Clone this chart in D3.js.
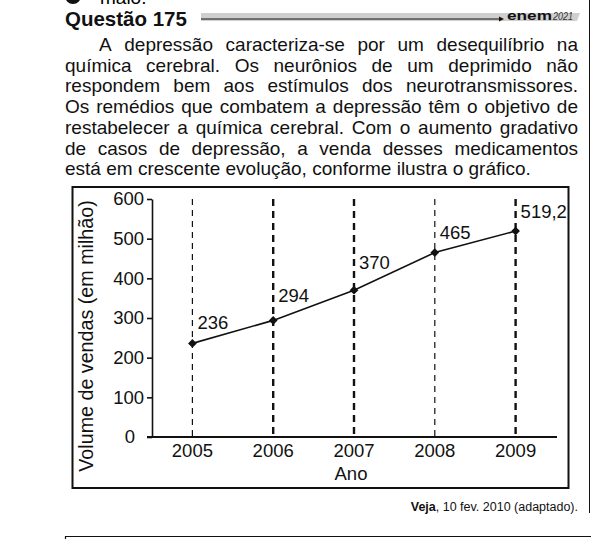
<!DOCTYPE html>
<html>
<head>
<meta charset="utf-8">
<script src="https://cdn.jsdelivr.net/npm/d3@7"></script>
<style>
  body { margin: 0; background: #fff; }
  svg { display: block; font-family: "Liberation Sans", Arial, sans-serif; }
</style>
</head>
<body>
<div id="page"></div>
<script>
// data
var years = [2005, 2006, 2007, 2008, 2009];
var sales = [236, 294, 370, 465, 519.2];
var salesLabels = ["236", "294", "370", "465", "519,2"];
var yTicks = [0, 100, 200, 300, 400, 500, 600];
var heavyDash = [false, true, true, false, true];

var bodyLines = [
  "A depressão caracteriza-se por um desequilíbrio na",
  "química cerebral. Os neurônios de um deprimido não",
  "respondem bem aos estímulos dos neurotransmissores.",
  "Os remédios que combatem a depressão têm o objetivo de",
  "restabelecer a química cerebral. Com o aumento gradativo",
  "de casos de depressão, a venda desses medicamentos",
  "está em crescente evolução, conforme ilustra o gráfico."
];

var svg = d3.select("#page")
  .append("svg")
  .attr("width", 591)
  .attr("height", 539);

svg.append("rect")
  .attr("width", 591).attr("height", 539)
  .attr("fill", "#fff");

// bit of the previous question cut off at the top
svg.append("circle")
  .attr("cx", 73).attr("cy", -4).attr("r", 8)
  .attr("fill", "#111");
svg.append("text")
  .attr("x", 100).attr("y", 4)
  .style("font-size", "19px")
  .text("maio.");

// column rule on the right
svg.append("line")
  .attr("x1", 589.5).attr("x2", 589.5)
  .attr("y1", 0).attr("y2", 513)
  .attr("stroke", "#111").attr("stroke-width", 1);

// header
svg.append("text")
  .attr("x", 65).attr("y", 26)
  .style("font-size", "20.5px")
  .style("font-weight", "bold")
  .attr("fill", "#111")
  .text("Questão 175");

svg.append("path")
  .attr("d", "M201,13 L580,13 L577,21 L201,21 Z")
  .attr("fill", "#cfcfcf");
svg.append("line")
  .attr("x1", 201).attr("x2", 501)
  .attr("y1", 19).attr("y2", 19)
  .attr("stroke", "#111").attr("stroke-width", 1);
svg.append("path")
  .attr("d", "M499,16.5 L504,19 L499,21.5 Z")
  .attr("fill", "#111");
svg.append("text")
  .attr("x", 507).attr("y", 20)
  .attr("textLength", 45).attr("lengthAdjust", "spacingAndGlyphs")
  .style("font-size", "13px").style("font-weight", "bold")
  .attr("fill", "#111")
  .text("enem");
svg.append("text")
  .attr("x", 553).attr("y", 20)
  .attr("textLength", 20).attr("lengthAdjust", "spacingAndGlyphs")
  .style("font-size", "10px").style("font-style", "italic")
  .attr("fill", "#333")
  .text("2021");

// body paragraph, justified word by word
var textLeft = 65, textRight = 578, indent = 34, lineStep = 20.7, firstBase = 51;
var bodySize = "19px";
var probe = svg.append("text").style("font-size", bodySize);
probe.text("a a");
var spaceW = probe.node().getComputedTextLength();
probe.text("aa");
spaceW -= probe.node().getComputedTextLength();
probe.remove();

bodyLines.forEach(function(line, i) {
  var words = line.split(" ");
  var start = textLeft + (i === 0 ? indent : 0);
  var t = svg.append("text")
    .attr("y", firstBase + i * lineStep)
    .attr("fill", "#111")
    .style("font-size", bodySize);
  var spans = words.map(function(w) {
    return t.append("tspan").text(w);
  });
  var widths = spans.map(function(s) { return s.node().getComputedTextLength(); });
  var total = d3.sum(widths);
  var gap = (i === bodyLines.length - 1)
    ? spaceW
    : (textRight - start - total) / (words.length - 1);
  var x = start;
  spans.forEach(function(s, j) {
    s.attr("x", x);
    x += widths[j] + gap;
  });
});

// chart box
svg.append("rect")
  .attr("x", 72.5).attr("y", 187)
  .attr("width", 496).attr("height", 301)
  .attr("fill", "none")
  .attr("stroke", "#111")
  .attr("stroke-width", 2);

var xScale = d3.scaleLinear().domain([2004.5, 2009.5]).range([152, 556]);
var yScale = d3.scaleLinear().domain([0, 600]).range([437, 199]);

var chart = svg.append("g").style("font-size", "18.5px");

// dashed guides
chart.selectAll("line.guide")
  .data(years)
  .join("line")
  .attr("class", "guide")
  .attr("x1", d => xScale(d)).attr("x2", d => xScale(d))
  .attr("y1", yScale(600)).attr("y2", yScale(0))
  .attr("stroke", "#111")
  .attr("stroke-width", (d, i) => heavyDash[i] ? 2.4 : 1.2)
  .attr("stroke-dasharray", (d, i) => heavyDash[i] ? "7,5" : "6,5");

// y axis
var yAxis = chart.append("g")
  .attr("transform", `translate(${xScale.range()[0]},0)`)
  .call(d3.axisLeft(yScale).tickValues(yTicks).tickSize(5).tickSizeOuter(0).tickPadding(3));
yAxis.select(".domain").attr("stroke", "#111").attr("stroke-width", 1.6);
yAxis.selectAll(".tick line").attr("stroke", "#111").attr("stroke-width", 1.6);
yAxis.selectAll(".tick text")
  .attr("fill", "#111")
  .style("font-size", "18.5px")
  .style("font-family", "'Liberation Sans', Arial, sans-serif")
  .attr("dx", d => d === 0 ? -9 : 0);

// x axis
chart.append("line")
  .attr("x1", xScale.range()[0] - 5).attr("x2", xScale.range()[1] + 1)
  .attr("y1", yScale(0)).attr("y2", yScale(0))
  .attr("stroke", "#111").attr("stroke-width", 2);
chart.selectAll("text.year")
  .data(years)
  .join("text")
  .attr("class", "year")
  .attr("x", d => xScale(d))
  .attr("y", yScale(0) + 20)
  .attr("text-anchor", "middle")
  .attr("fill", "#111")
  .text(d => d);

chart.append("text")
  .attr("x", xScale(2007) - 3)
  .attr("y", yScale(0) + 43)
  .attr("text-anchor", "middle")
  .attr("fill", "#111")
  .text("Ano");

chart.append("text")
  .attr("transform", `translate(93, ${(yScale(600) + yScale(0)) / 2 + 18}) rotate(-90)`)
  .attr("text-anchor", "middle")
  .attr("fill", "#111")
  .style("font-size", "19.7px")
  .text("Volume de vendas (em milhão)");

// series
var points = years.map((y, i) => ({year: y, value: sales[i], label: salesLabels[i]}));
var line = d3.line()
  .x(d => xScale(d.year))
  .y(d => yScale(d.value));

chart.append("path")
  .datum(points)
  .attr("fill", "none")
  .attr("stroke", "#111")
  .attr("stroke-width", 1.6)
  .attr("d", line);

chart.selectAll("path.mark")
  .data(points)
  .join("path")
  .attr("class", "mark")
  .attr("transform", d => `translate(${xScale(d.year)},${yScale(d.value)}) rotate(45)`)
  .attr("d", d3.symbol(d3.symbolSquare).size(38))
  .attr("fill", "#111");

var labelLift = [14, 18, 21, 14, 13];
chart.selectAll("text.value")
  .data(points)
  .join("text")
  .attr("class", "value")
  .attr("x", d => xScale(d.year) + 5)
  .attr("y", (d, i) => yScale(d.value) - labelLift[i])
  .attr("fill", "#111")
  .text(d => d.label);

// source line
var src = svg.append("text")
  .attr("x", 578).attr("y", 511)
  .attr("text-anchor", "end")
  .style("font-size", "12.5px")
  .attr("fill", "#111");
src.append("tspan").style("font-weight", "bold").text("Veja");
src.append("tspan").text(", 10 fev. 2010 (adaptado).");

// top of the next box
svg.append("path")
  .attr("d", "M65.5,545 L65.5,536.5 L591,536.5")
  .attr("fill", "none")
  .attr("stroke", "#111")
  .attr("stroke-width", 1.2);
</script>
</body>
</html>
